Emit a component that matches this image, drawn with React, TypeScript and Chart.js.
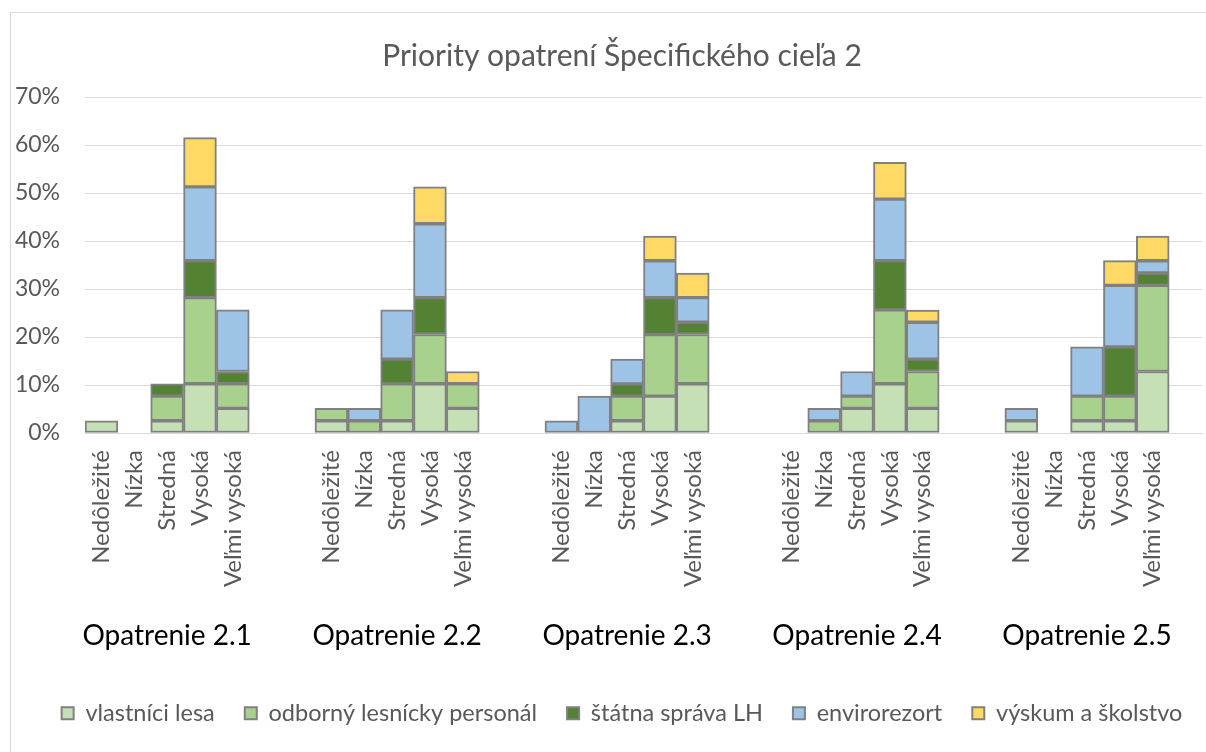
import React, { useEffect, useRef } from "react";
import { Chart, registerables } from "chart.js";

Chart.register(...registerables);

const TITLE = "Priority opatrení Špecifického cieľa 2";
const groups = ["Opatrenie 2.1", "Opatrenie 2.2", "Opatrenie 2.3", "Opatrenie 2.4", "Opatrenie 2.5"];
const levels = ["Nedôležité", "Nízka", "Stredná", "Vysoká", "Veľmi vysoká"];
const seriesNames = ["vlastníci lesa", "odborný lesnícky personál", "štátna správa LH", "envirorezort", "výskum a školstvo"];
const seriesColors = ["#C5E0B4", "#A9D18E", "#548235", "#9DC3E6", "#FFD966"];
const yMax = 70;
const yStep = 10;

// values in % ; per group: Nedôležité, Nízka, Stredná, Vysoká, Veľmi vysoká
const vlastniciLesa = [
  2.56, 0, 2.56, 10.26, 5.13,
  2.56, 0, 2.56, 10.26, 5.13,
  0, 0, 2.56, 7.69, 10.26,
  0, 0, 5.13, 10.26, 5.13,
  2.56, 0, 2.56, 2.56, 12.82,
];
const odbornyPersonal = [
  0, 0, 5.13, 17.95, 5.13,
  2.56, 2.56, 7.69, 10.26, 5.13,
  0, 0, 5.13, 12.82, 10.26,
  0, 2.56, 2.56, 15.38, 7.69,
  0, 0, 5.13, 5.13, 17.95,
];
const statnaSprava = [
  0, 0, 2.56, 7.69, 2.56,
  0, 0, 5.13, 7.69, 0,
  0, 0, 2.56, 7.69, 2.56,
  0, 0, 0, 10.26, 2.56,
  0, 0, 0, 10.26, 2.56,
];
const envirorezort = [
  0, 0, 0, 15.38, 12.82,
  0, 2.56, 10.26, 15.38, 0,
  2.56, 7.69, 5.13, 7.69, 5.13,
  0, 2.56, 5.13, 12.82, 7.69,
  2.56, 0, 10.26, 12.82, 2.56,
];
const vyskumSkolstvo = [
  0, 0, 0, 10.26, 0,
  0, 0, 0, 7.69, 2.56,
  0, 0, 0, 5.13, 5.13,
  0, 0, 0, 7.69, 2.56,
  0, 0, 0, 5.13, 5.13,
];

const seriesValues = [vlastniciLesa, odbornyPersonal, statnaSprava, envirorezort, vyskumSkolstvo];

const FONT = "Lato";
const GRAY = "#595959";

// build slots: 5 levels per group, 2 blank slots between groups, 1 blank at end
const slotLabels: string[] = [];
const slotIndex: (number | null)[] = [];
groups.forEach((_, g) => {
  levels.forEach((lv, i) => {
    slotLabels.push(lv);
    slotIndex.push(g * 5 + i);
  });
  const blanks = g < groups.length - 1 ? 2 : 1;
  for (let b = 0; b < blanks; b++) {
    slotLabels.push("");
    slotIndex.push(null);
  }
});

const decorPlugin = {
  id: "decor",
  beforeDraw(chart: any) {
    const ctx = chart.ctx;
    ctx.save();
    ctx.fillStyle = "#ffffff";
    ctx.fillRect(0, 0, chart.width, chart.height);
    ctx.strokeStyle = "#d9d9d9";
    ctx.lineWidth = 1;
    ctx.strokeRect(10.5, 12.5, chart.width + 20, chart.height + 20);
    ctx.restore();
  },
  afterDraw(chart: any) {
    const ctx = chart.ctx;
    const xs = chart.scales.x;
    ctx.save();
    ctx.fillStyle = "#000000";
    ctx.font = `28px ${FONT}`;
    ctx.textAlign = "center";
    ctx.textBaseline = "alphabetic";
    groups.forEach((name, g) => {
      const x = xs.getPixelForValue(g * 7 + 2);
      ctx.fillText(name, x, 645);
    });
    ctx.restore();
  },
};

export default function App() {
  const ref = useRef<HTMLCanvasElement | null>(null);
  useEffect(() => {
    if (!ref.current) return;
    const datasets = seriesNames.map((name, s) => ({
      label: name,
      data: slotIndex.map((idx) => {
        if (idx === null) return null;
        const v = seriesValues[s][idx];
        return v === 0 ? null : v;
      }),
      backgroundColor: seriesColors[s],
      borderColor: "#808080",
      borderWidth: 2,
      borderSkipped: false,
      barPercentage: 1,
      categoryPercentage: 1,
      yAxisID: "y",
    }));
    const chart = new Chart(ref.current, {
      type: "bar",
      data: { labels: slotLabels, datasets },
      plugins: [decorPlugin],
      options: {
        responsive: false,
        animation: false,
        devicePixelRatio: 1,
        layout: { padding: { left: 10, right: -28, top: 0, bottom: 17 } },
        plugins: {
          tooltip: { enabled: false },
          title: {
            display: true,
            text: TITLE,
            color: GRAY,
            font: { family: FONT, size: 30, weight: "normal" },
            padding: { top: 38, bottom: 23 },
          },
          legend: {
            display: true,
            position: "bottom",
            labels: {
              color: GRAY,
              font: { family: FONT, size: 23.5 },
              boxWidth: 12,
              boxHeight: 12,
              padding: 30,
            },
          },
        },
        scales: {
          x: {
            stacked: true,
            offset: true,
            grid: { display: false, drawTicks: false },
            border: { display: true, color: "#d9d9d9", width: 1 },
            ticks: {
              autoSkip: false,
              maxRotation: 90,
              minRotation: 90,
              color: GRAY,
              padding: 17,
              font: { family: FONT, size: 24 },
            },
            afterFit(scale: any) {
              scale.height = 238.5;
              scale.paddingLeft = 0;
              scale.paddingRight = 0;
            },
          },
          y: {
            stacked: true,
            position: "left",
            min: 0,
            max: yMax,
            ticks: {
              stepSize: yStep,
              color: GRAY,
              padding: 25,
              font: { family: FONT, size: 23 },
              callback: (v: any) => String(v) + "%",
            },
            grid: { color: "#d9d9d9", lineWidth: 1, drawTicks: false },
            border: { display: false },
            afterFit(scale: any) {
              scale.width = 75;
            },
          },
          spacer: {
            type: "linear",
            position: "right",
            display: true,
            grid: { display: false, drawTicks: false },
            border: { display: false },
            ticks: { display: false },
            afterFit(scale: any) {
              scale.width = 32;
              scale.paddingTop = 0;
              scale.paddingBottom = 0;
            },
          },
        },
      },
    });
    return () => chart.destroy();
  }, []);
  return (
    <div style={{ position: "fixed", left: 0, top: 0, width: 1206, height: 752, background: "#fff" }}>
      <canvas ref={ref} width={1206} height={752} style={{ display: "block", width: 1206, height: 752 }} />
    </div>
  );
}
